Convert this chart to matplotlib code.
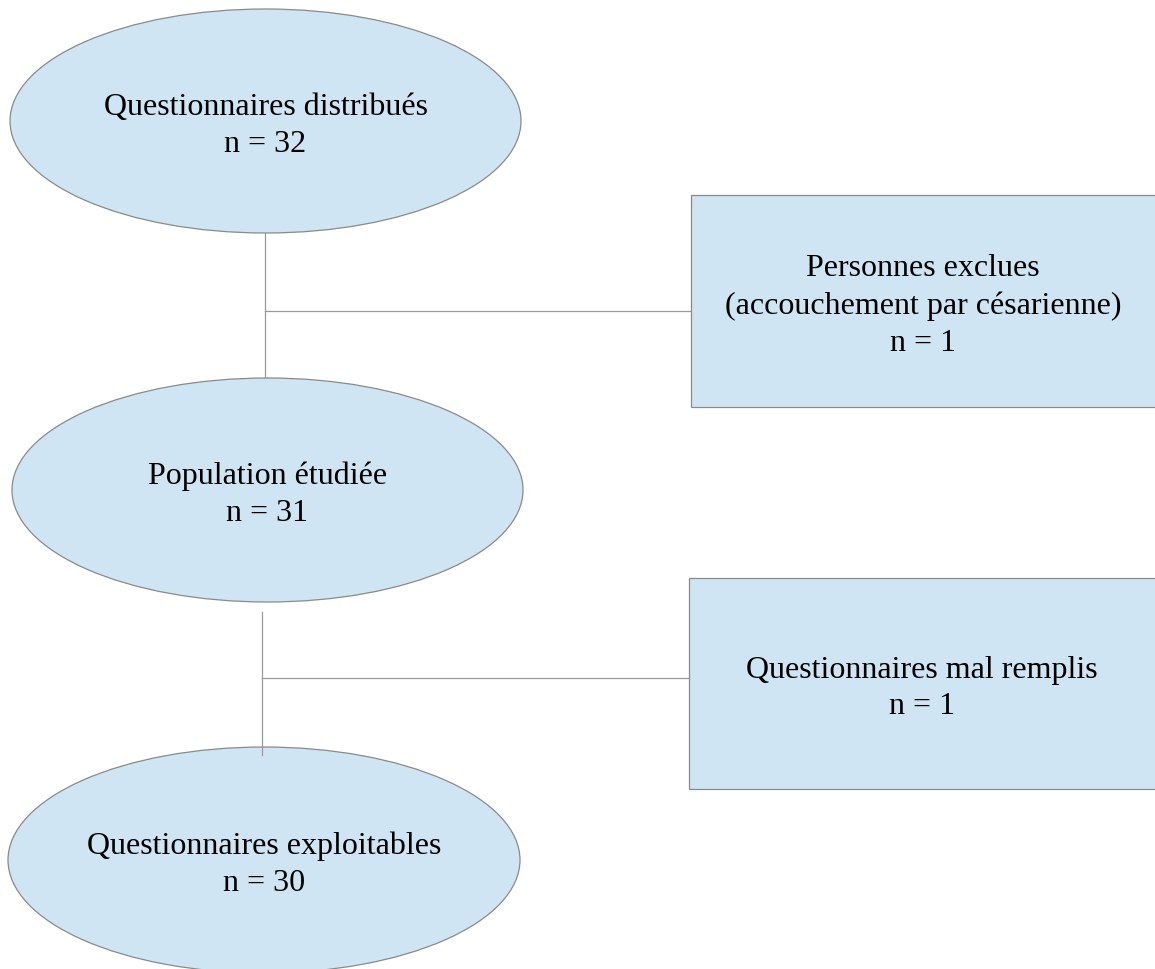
import matplotlib
matplotlib.use("Agg")
import matplotlib.pyplot as plt
from matplotlib.patches import Ellipse, Rectangle

# flowchart content
main_labels = ["Questionnaires distribués", "Population étudiée", "Questionnaires exploitables"]
main_counts = [32, 31, 30]
side_labels = ["Personnes exclues\n(accouchement par césarienne)", "Questionnaires mal remplis"]
side_counts = [1, 1]

FILL = "#cfe5f3"
EDGE = "#8a8a8a"
LINE = "#9a9a9a"
FONT = "Liberation Serif"
FS = 23
LS = 1.36

fig = plt.figure(figsize=(11.55, 9.69), dpi=100)
ax = fig.add_axes([0, 0, 1, 1])
ax.set_xlim(0, 1155)
ax.set_ylim(969, 0)
ax.axis("off")

# ellipses (center x, center y, width, height)
ell_geom = [(265.5, 121, 511, 224), (267.5, 490, 511, 224), (264, 860, 512, 226)]
for (cx, cy, w, h), lab, n in zip(ell_geom, main_labels, main_counts):
    ax.add_patch(Ellipse((cx, cy), w, h, facecolor=FILL, edgecolor=EDGE, lw=0.9, zorder=2))
    ax.text(cx, cy + 5, f"{lab}\nn = {n}", ha="center", va="center",
            fontsize=FS, family=FONT, linespacing=LS, zorder=3)

# side boxes (x0, y0, x1, y1)
box_geom = [(691, 195, 1160, 407), (689, 578, 1160, 789)]
for (x0, y0, x1, y1), lab, n in zip(box_geom, side_labels, side_counts):
    ax.add_patch(Rectangle((x0, y0), x1 - x0, y1 - y0, facecolor=FILL,
                           edgecolor=EDGE, lw=0.9, zorder=2))
    ax.text((x0 + 1155) / 2, (y0 + y1) / 2 + 5, f"{lab}\nn = {n}", ha="center",
            va="center", fontsize=FS, family=FONT, linespacing=LS, zorder=3)

# connectors
ax.plot([265, 265], [233, 378], color=LINE, lw=0.9, zorder=1)
ax.plot([265, 690], [311, 311], color=LINE, lw=0.9, zorder=1)
ax.plot([262, 262], [612, 755], color=LINE, lw=0.9, zorder=4)
ax.plot([262, 688], [678, 678], color=LINE, lw=0.9, zorder=1)

fig.savefig("out.png", dpi=100, facecolor="white")
